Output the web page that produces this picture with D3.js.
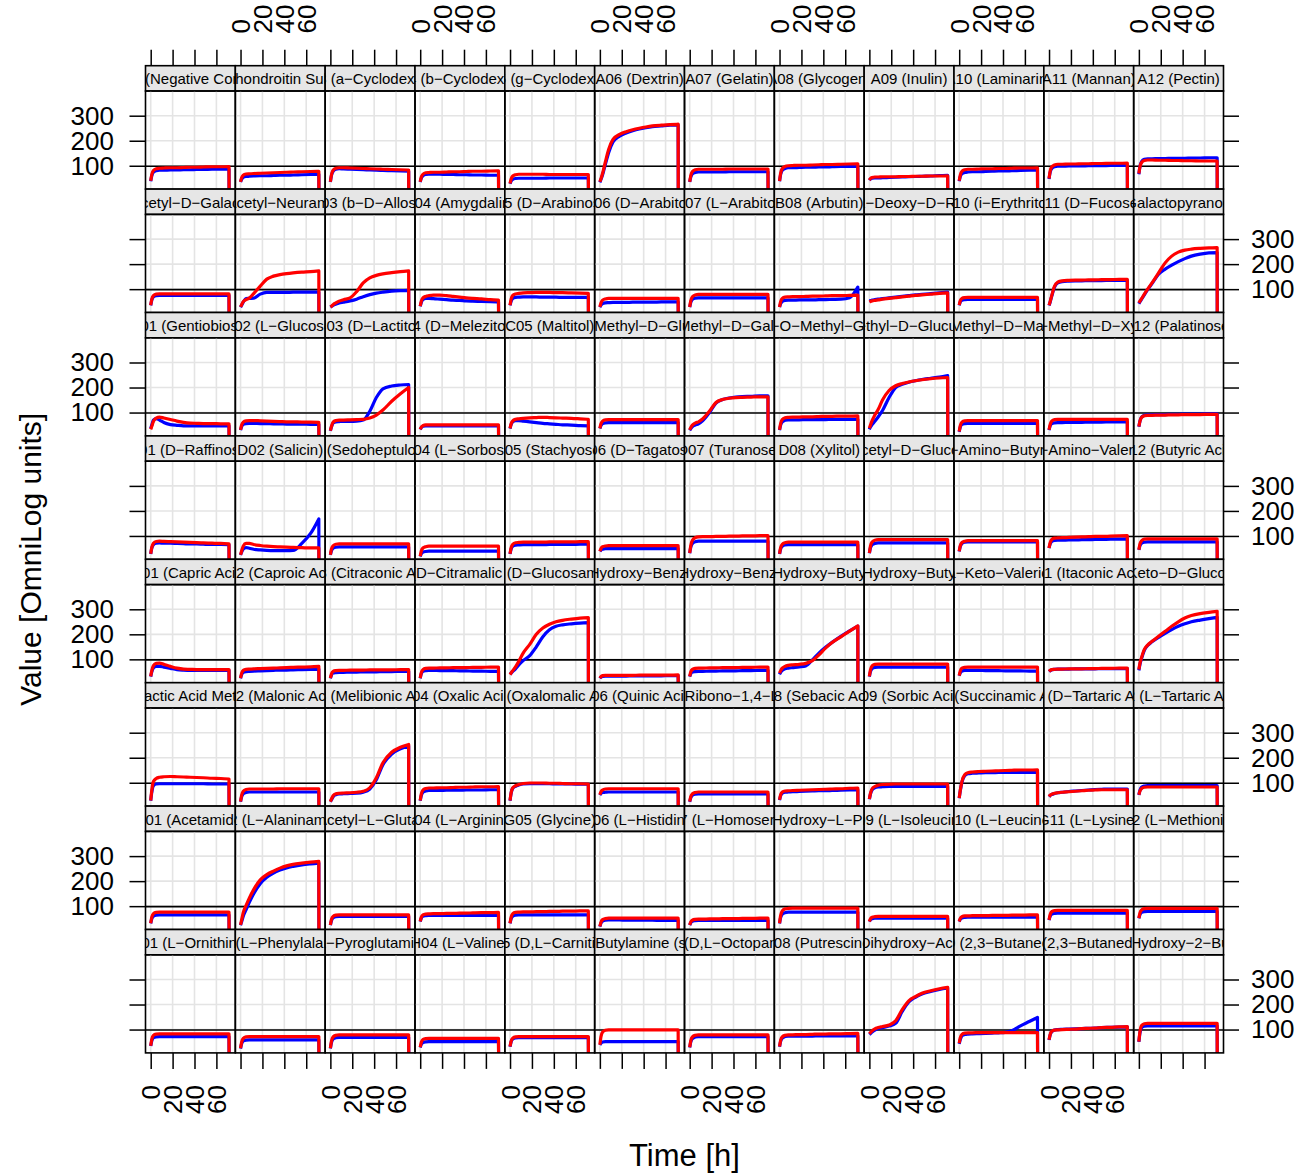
<!DOCTYPE html>
<html>
<head>
<meta charset="utf-8">
<script src="https://cdn.jsdelivr.net/npm/d3@7"></script>
<style>
	body { margin: 0; background: #fff; }
	svg { display: block; }
	text { font-family: "Liberation Sans", Arial, Helvetica, sans-serif; fill: #000; }
</style>
</head>
<body>
<script>
/*--- data: PM02 wells, two curves per well ---*/

var wells = [
	"A01 (Negative Control)", "A02 (Chondroitin Sulfate C)", "A03 (a-Cyclodextrin)", "A04 (b-Cyclodextrin)", "A05 (g-Cyclodextrin)", "A06 (Dextrin)",
	"A07 (Gelatin)", "A08 (Glycogen)", "A09 (Inulin)", "A10 (Laminarin)", "A11 (Mannan)", "A12 (Pectin)",
	"B01 (N-Acetyl-D-Galactosamine)", "B02 (N-Acetyl-Neuraminic Acid)", "B03 (b-D-Allose)", "B04 (Amygdalin)", "B05 (D-Arabinose)", "B06 (D-Arabitol)",
	"B07 (L-Arabitol)", "B08 (Arbutin)", "B09 (2-Deoxy-D-Ribose)", "B10 (i-Erythritol)", "B11 (D-Fucose)", "B12 (3-O-b-D-Galactopyranosyl-D-Arabinose)",
	"C01 (Gentiobiose)", "C02 (L-Glucose)", "C03 (D-Lactitol)", "C04 (D-Melezitose)", "C05 (Maltitol)", "C06 (a-Methyl-D-Glucoside)",
	"C07 (b-Methyl-D-Galactoside)", "C08 (3-O-Methyl-Glucose)", "C09 (b-Methyl-D-Glucuronic Acid)", "C10 (a-Methyl-D-Mannoside)", "C11 (b-Methyl-D-Xyloside)", "C12 (Palatinose)",
	"D01 (D-Raffinose)", "D02 (Salicin)", "D03 (Sedoheptulosan)", "D04 (L-Sorbose)", "D05 (Stachyose)", "D06 (D-Tagatose)",
	"D07 (Turanose)", "D08 (Xylitol)", "D09 (N-Acetyl-D-Glucosaminitol)", "D10 (g-Amino-Butyric Acid)", "D11 (d-Amino-Valeric Acid)", "D12 (Butyric Acid)",
	"E01 (Capric Acid)", "E02 (Caproic Acid)", "E03 (Citraconic Acid)", "E04 (D-Citramalic Acid)", "E05 (D-Glucosamine)", "E06 (2-Hydroxy-Benzoic Acid)",
	"E07 (4-Hydroxy-Benzoic Acid)", "E08 (b-Hydroxy-Butyric Acid)", "E09 (g-Hydroxy-Butyric Acid)", "E10 (a-Keto-Valeric Acid)", "E11 (Itaconic Acid)", "E12 (5-Keto-D-Gluconic Acid)",
	"F01 (D-Lactic Acid Methyl Ester)", "F02 (Malonic Acid)", "F03 (Melibionic Acid)", "F04 (Oxalic Acid)", "F05 (Oxalomalic Acid)", "F06 (Quinic Acid)",
	"F07 (D-Ribono-1,4-Lactone)", "F08 (Sebacic Acid)", "F09 (Sorbic Acid)", "F10 (Succinamic Acid)", "F11 (D-Tartaric Acid)", "F12 (L-Tartaric Acid)",
	"G01 (Acetamide)", "G02 (L-Alaninamide)", "G03 (N-Acetyl-L-Glutamic Acid)", "G04 (L-Arginine)", "G05 (Glycine)", "G06 (L-Histidine)",
	"G07 (L-Homoserine)", "G08 (Hydroxy-L-Proline)", "G09 (L-Isoleucine)", "G10 (L-Leucine)", "G11 (L-Lysine)", "G12 (L-Methionine)",
	"H01 (L-Ornithine)", "H02 (L-Phenylalanine)", "H03 (L-Pyroglutamic Acid)", "H04 (L-Valine)", "H05 (D,L-Carnitine)", "H06 (Butylamine (sec-))",
	"H07 (D,L-Octopamine)", "H08 (Putrescine)", "H09 (Dihydroxy-Acetone)", "H10 (2,3-Butanediol)", "H11 (2,3-Butanedione)", "H12 (3-Hydroxy-2-Butanone)"
];

// reading times [h]
var hours = [0, 1, 2.5, 5, 8, 12, 18, 24, 30, 36, 42, 48, 56, 64, 71.5];
// last reading, where every curve falls off
var dropTime = 71.6, dropValue = 0;

var blue = [
	// row A
	[38, 60, 74, 80, 82, 82, 83, 83, 84, 84, 85, 85, 86, 86, 87],
	[35, 46, 54, 57, 58, 59, 60, 60, 61, 62, 62, 63, 64, 65, 66],
	[35, 61, 78, 86, 88, 87, 86, 85, 84, 83, 82, 81, 80, 79, 78],
	[35, 50, 60, 65, 66, 66, 66, 65, 65, 64, 64, 63, 63, 62, 62],
	[28, 39, 46, 49, 50, 50, 50, 50, 50, 51, 51, 51, 51, 51, 51],
	[34, 45, 64, 105, 152, 195, 218, 231, 240, 247, 252, 256, 259, 262, 263],
	[35, 55, 68, 73, 75, 75, 75, 75, 75, 76, 76, 76, 76, 76, 76],
	[38, 65, 82, 89, 92, 92, 93, 94, 94, 95, 95, 96, 97, 97, 98],
	[42, 47, 50, 51, 51, 52, 53, 54, 55, 56, 57, 58, 59, 61, 62],
	[38, 57, 68, 73, 75, 76, 76, 77, 78, 79, 79, 80, 81, 82, 83],
	[47, 73, 89, 96, 98, 98, 99, 99, 99, 100, 100, 100, 101, 101, 101],
	[66, 97, 117, 126, 128, 128, 129, 129, 130, 130, 130, 131, 131, 132, 132],
	// row B
	[35, 56, 69, 74, 75, 75, 75, 75, 75, 75, 75, 75, 75, 75, 75],
	[28, 36, 48, 62, 63, 64, 80, 87, 87, 87, 87, 88, 88, 88, 88],
	[28, 31, 35, 40, 45, 48, 53, 60, 70, 78, 84, 88, 92, 94, 95],
	[31, 47, 58, 63, 63, 62, 60, 58, 56, 55, 53, 52, 51, 50, 49],
	[35, 52, 63, 67, 68, 69, 69, 69, 68, 68, 68, 67, 67, 67, 67],
	[28, 36, 42, 45, 46, 47, 47, 47, 48, 48, 48, 48, 49, 49, 49],
	[28, 47, 59, 64, 65, 65, 65, 65, 65, 65, 65, 65, 65, 65, 65],
	[28, 42, 51, 55, 56, 56, 57, 57, 57, 58, 58, 59, 60, 66, 108],
	[53, 54, 56, 58, 60, 62, 65, 68, 71, 74, 77, 79, 82, 85, 88],
	[35, 49, 56, 58, 59, 59, 59, 59, 59, 59, 59, 59, 59, 59, 59],
	[35, 48, 72, 108, 125, 130, 132, 133, 133, 134, 134, 134, 135, 135, 135],
	[42, 50, 60, 77, 98, 122, 160, 180, 196, 210, 222, 232, 240, 245, 246],
	// row C
	[36, 50, 70, 76, 70, 60, 52, 49, 47, 47, 47, 47, 47, 47, 47],
	[30, 44, 53, 56, 57, 57, 56, 56, 55, 55, 54, 54, 54, 53, 53],
	[27, 42, 58, 63, 64, 65, 65, 66, 70, 105, 160, 195, 206, 210, 212],
	[32, 40, 45, 47, 47, 47, 47, 47, 47, 47, 47, 47, 47, 47, 47],
	[36, 52, 63, 68, 68, 66, 63, 60, 57, 55, 53, 51, 50, 48, 47],
	[36, 48, 56, 59, 60, 60, 60, 60, 60, 60, 60, 60, 60, 60, 60],
	[29, 36, 44, 50, 55, 68, 100, 138, 152, 158, 162, 164, 165, 167, 167],
	[30, 50, 63, 69, 71, 71, 71, 72, 72, 72, 72, 73, 73, 73, 73],
	[33, 42, 52, 65, 82, 108, 160, 200, 213, 221, 227, 232, 237, 242, 248],
	[23, 42, 53, 56, 57, 57, 57, 57, 57, 57, 57, 57, 57, 57, 57],
	[30, 46, 56, 59, 60, 60, 61, 61, 61, 62, 62, 62, 63, 63, 63],
	[43, 66, 82, 89, 91, 91, 92, 92, 93, 93, 94, 94, 94, 95, 95],
	// row D
	[28, 51, 65, 71, 72, 71, 71, 70, 69, 68, 68, 67, 66, 66, 65],
	[24, 35, 48, 53, 51, 47, 44, 42, 41, 41, 41, 42, 70, 110, 168],
	[24, 41, 51, 55, 56, 56, 56, 56, 56, 56, 56, 56, 56, 56, 56],
	[18, 29, 35, 38, 39, 39, 39, 39, 39, 39, 39, 39, 39, 39, 39],
	[28, 48, 59, 63, 64, 65, 65, 65, 65, 66, 66, 66, 66, 67, 67],
	[38, 44, 47, 49, 49, 49, 49, 49, 49, 49, 49, 49, 49, 49, 49],
	[31, 55, 70, 77, 79, 79, 79, 79, 79, 79, 79, 79, 79, 79, 79],
	[28, 48, 59, 64, 65, 65, 65, 65, 65, 65, 65, 65, 65, 65, 65],
	[31, 53, 65, 70, 72, 72, 72, 72, 72, 72, 72, 72, 72, 72, 72],
	[38, 58, 70, 75, 76, 76, 76, 76, 76, 76, 76, 76, 76, 76, 76],
	[51, 68, 78, 82, 83, 83, 84, 84, 85, 85, 86, 86, 87, 87, 88],
	[44, 61, 71, 75, 76, 76, 76, 76, 76, 76, 76, 76, 76, 76, 76],
	// row E
	[31, 50, 66, 72, 72, 69, 64, 59, 57, 56, 56, 56, 56, 56, 56],
	[24, 39, 48, 51, 52, 53, 54, 55, 56, 57, 57, 58, 59, 60, 61],
	[24, 37, 45, 47, 48, 48, 49, 49, 50, 50, 50, 51, 51, 52, 52],
	[24, 42, 52, 55, 56, 56, 55, 55, 55, 54, 54, 53, 53, 52, 52],
	[40, 45, 52, 62, 78, 95, 115, 150, 190, 218, 232, 238, 242, 245, 247],
	[24, 29, 32, 33, 33, 33, 33, 33, 34, 34, 34, 34, 34, 35, 35],
	[31, 43, 49, 51, 52, 52, 53, 53, 54, 54, 54, 55, 55, 56, 56],
	[40, 48, 56, 62, 65, 67, 70, 74, 98, 125, 148, 168, 192, 214, 233],
	[31, 51, 63, 68, 69, 69, 69, 69, 69, 69, 69, 69, 69, 69, 69],
	[34, 46, 53, 56, 56, 56, 56, 55, 55, 55, 54, 54, 54, 53, 53],
	[51, 55, 58, 60, 61, 61, 61, 62, 62, 62, 62, 63, 63, 63, 63],
	[56, 80, 104, 136, 155, 170, 188, 204, 219, 232, 242, 250, 257, 263, 268],
	// row F
	[28, 62, 88, 95, 96, 96, 96, 96, 96, 96, 96, 96, 95, 95, 95],
	[24, 44, 56, 61, 63, 63, 63, 63, 63, 63, 63, 63, 63, 63, 63],
	[24, 32, 44, 52, 55, 56, 57, 58, 62, 75, 112, 172, 215, 236, 247],
	[28, 49, 62, 67, 69, 69, 69, 70, 70, 70, 71, 71, 71, 72, 72],
	[28, 58, 78, 86, 91, 95, 96, 96, 96, 96, 95, 95, 95, 94, 94],
	[51, 57, 61, 62, 63, 63, 63, 63, 63, 63, 63, 63, 63, 63, 63],
	[24, 40, 50, 54, 55, 55, 55, 55, 55, 55, 55, 55, 55, 55, 55],
	[31, 48, 58, 62, 63, 64, 65, 66, 67, 68, 68, 69, 70, 71, 72],
	[34, 55, 71, 80, 83, 84, 85, 85, 85, 85, 85, 85, 85, 85, 85],
	[38, 68, 102, 128, 136, 138, 139, 140, 140, 141, 141, 141, 141, 141, 141],
	[44, 49, 53, 57, 60, 62, 65, 67, 69, 71, 73, 74, 75, 75, 75],
	[51, 70, 82, 87, 89, 89, 89, 89, 89, 89, 89, 89, 89, 89, 89],
	// row G
	[31, 50, 60, 64, 65, 65, 65, 65, 65, 65, 65, 65, 65, 65, 65],
	[24, 38, 60, 85, 115, 150, 190, 215, 232, 244, 253, 259, 265, 269, 272],
	[24, 42, 53, 58, 59, 59, 59, 59, 59, 59, 59, 59, 59, 59, 59],
	[38, 52, 60, 62, 63, 63, 63, 63, 63, 63, 63, 63, 63, 63, 63],
	[31, 50, 60, 64, 65, 65, 65, 65, 65, 65, 65, 65, 65, 65, 65],
	[18, 32, 40, 44, 45, 45, 45, 44, 44, 44, 44, 44, 43, 43, 43],
	[24, 34, 40, 42, 43, 43, 43, 43, 43, 43, 43, 43, 43, 43, 43],
	[31, 54, 68, 74, 76, 76, 76, 76, 76, 76, 76, 76, 76, 76, 76],
	[38, 46, 50, 52, 52, 52, 52, 52, 52, 52, 52, 52, 52, 52, 52],
	[38, 48, 53, 55, 56, 56, 56, 56, 56, 56, 56, 56, 56, 56, 56],
	[44, 59, 68, 71, 72, 72, 72, 72, 72, 72, 72, 72, 72, 72, 72],
	[51, 66, 75, 78, 79, 79, 79, 79, 79, 79, 79, 79, 79, 79, 79],
	// row H
	[34, 55, 67, 71, 72, 72, 72, 72, 72, 72, 72, 72, 72, 72, 72],
	[24, 43, 54, 58, 59, 59, 59, 59, 59, 59, 59, 59, 59, 59, 59],
	[24, 48, 62, 67, 69, 69, 69, 69, 69, 69, 69, 69, 69, 69, 69],
	[28, 41, 48, 51, 52, 52, 52, 52, 52, 52, 52, 52, 52, 52, 52],
	[31, 51, 62, 67, 68, 68, 68, 68, 68, 68, 68, 68, 68, 68, 68],
	[38, 45, 50, 52, 52, 52, 52, 52, 52, 52, 52, 52, 52, 52, 52],
	[28, 51, 64, 70, 72, 72, 72, 72, 72, 72, 72, 72, 72, 72, 72],
	[31, 53, 66, 72, 74, 74, 74, 74, 74, 75, 75, 75, 75, 75, 75],
	[80, 84, 90, 98, 104, 108, 114, 125, 172, 210, 229, 242, 252, 260, 266],
	[43, 60, 75, 80, 82, 83, 84, 85, 86, 87, 89, 95, 115, 132, 148],
	[58, 78, 92, 98, 100, 101, 102, 103, 104, 105, 106, 108, 109, 110, 111],
	[51, 86, 108, 114, 115, 115, 115, 115, 115, 115, 115, 115, 115, 115, 115]
];

var red = [
	// row A
	[40, 65, 81, 88, 90, 91, 92, 92, 93, 94, 94, 95, 96, 96, 97],
	[36, 52, 62, 67, 68, 69, 70, 71, 72, 73, 74, 75, 76, 77, 78],
	[36, 64, 82, 90, 92, 92, 91, 90, 89, 88, 87, 86, 85, 84, 83],
	[36, 55, 66, 72, 73, 74, 74, 75, 76, 76, 77, 78, 78, 79, 80],
	[29, 47, 59, 64, 66, 66, 66, 66, 66, 65, 65, 65, 65, 65, 65],
	[36, 48, 70, 115, 165, 205, 225, 236, 244, 250, 255, 259, 262, 264, 266],
	[36, 61, 77, 84, 86, 86, 86, 86, 86, 87, 87, 87, 87, 87, 87],
	[39, 70, 89, 97, 100, 101, 102, 102, 103, 104, 105, 105, 106, 107, 108],
	[43, 49, 53, 55, 55, 56, 56, 56, 57, 57, 58, 58, 59, 59, 60],
	[40, 63, 78, 84, 86, 86, 87, 88, 88, 89, 89, 90, 91, 91, 92],
	[49, 78, 96, 103, 106, 106, 107, 107, 108, 108, 109, 109, 110, 110, 111],
	[69, 96, 113, 121, 123, 123, 122, 122, 121, 121, 120, 120, 119, 119, 119],
	// row B
	[36, 60, 74, 80, 81, 81, 81, 81, 81, 81, 81, 81, 81, 81, 81],
	[29, 38, 50, 58, 64, 82, 112, 140, 152, 158, 162, 165, 168, 170, 173],
	[29, 32, 38, 45, 52, 58, 65, 90, 125, 145, 155, 161, 166, 170, 173],
	[32, 52, 65, 71, 74, 76, 76, 74, 71, 68, 65, 63, 61, 58, 56],
	[36, 60, 75, 81, 83, 85, 86, 87, 87, 87, 86, 86, 85, 84, 83],
	[29, 45, 56, 61, 63, 63, 63, 63, 63, 63, 63, 63, 63, 63, 63],
	[29, 54, 70, 77, 79, 79, 79, 79, 79, 79, 79, 79, 79, 79, 79],
	[29, 50, 63, 68, 69, 70, 70, 71, 72, 72, 73, 74, 74, 75, 76],
	[49, 51, 53, 55, 57, 60, 63, 66, 69, 72, 75, 77, 80, 83, 85],
	[36, 54, 63, 66, 67, 67, 67, 67, 67, 67, 67, 67, 67, 67, 67],
	[36, 50, 75, 112, 128, 133, 135, 136, 136, 137, 137, 138, 138, 139, 139],
	[45, 52, 62, 80, 100, 125, 165, 205, 232, 248, 256, 260, 263, 265, 266],
	// row C
	[33, 45, 65, 78, 82, 78, 72, 66, 61, 58, 57, 56, 56, 55, 55],
	[31, 50, 62, 67, 68, 68, 67, 66, 65, 64, 63, 63, 62, 62, 61],
	[28, 45, 62, 68, 70, 70, 71, 72, 73, 78, 90, 110, 145, 175, 200],
	[33, 42, 48, 51, 51, 51, 51, 51, 51, 51, 51, 51, 51, 51, 51],
	[37, 55, 67, 73, 75, 77, 79, 80, 81, 80, 79, 78, 77, 75, 73],
	[37, 55, 66, 71, 72, 72, 72, 72, 72, 72, 72, 72, 72, 72, 72],
	[31, 40, 50, 58, 63, 75, 105, 140, 152, 157, 160, 161, 162, 163, 163],
	[31, 56, 72, 79, 81, 82, 82, 83, 83, 84, 85, 85, 86, 86, 87],
	[37, 50, 68, 90, 112, 150, 188, 207, 216, 222, 227, 231, 235, 238, 240],
	[24, 48, 62, 67, 68, 68, 68, 68, 68, 68, 68, 68, 68, 68, 68],
	[31, 52, 66, 72, 73, 73, 73, 73, 73, 73, 73, 73, 73, 73, 73],
	[44, 66, 81, 87, 89, 89, 90, 90, 91, 91, 92, 92, 92, 93, 93],
	// row D
	[29, 54, 71, 78, 79, 78, 77, 76, 75, 74, 73, 72, 71, 70, 68],
	[25, 40, 60, 70, 70, 66, 62, 59, 57, 56, 55, 54, 53, 52, 52],
	[25, 48, 61, 67, 68, 68, 68, 68, 68, 68, 68, 68, 68, 68, 68],
	[19, 40, 52, 57, 59, 59, 59, 59, 59, 59, 59, 59, 59, 59, 59],
	[29, 53, 67, 73, 74, 75, 75, 75, 75, 76, 76, 76, 76, 77, 77],
	[39, 50, 57, 60, 61, 61, 61, 61, 61, 61, 61, 61, 61, 61, 61],
	[32, 62, 83, 93, 96, 97, 97, 98, 98, 99, 99, 100, 100, 101, 101],
	[29, 53, 67, 73, 75, 75, 75, 75, 75, 75, 75, 75, 75, 75, 75],
	[32, 60, 76, 83, 85, 85, 85, 85, 85, 85, 85, 85, 85, 85, 85],
	[39, 61, 74, 79, 81, 81, 81, 81, 81, 81, 81, 81, 81, 81, 81],
	[52, 73, 86, 91, 92, 93, 94, 95, 96, 97, 98, 98, 99, 100, 101],
	[45, 68, 81, 87, 88, 88, 88, 88, 88, 88, 88, 88, 88, 88, 88],
	// row E
	[32, 55, 75, 84, 85, 80, 72, 65, 61, 60, 59, 59, 59, 59, 59],
	[25, 45, 56, 60, 61, 62, 63, 64, 65, 66, 67, 68, 69, 70, 72],
	[25, 42, 52, 55, 56, 56, 57, 57, 57, 58, 58, 58, 58, 59, 59],
	[25, 47, 59, 64, 65, 65, 66, 66, 67, 67, 67, 68, 68, 69, 69],
	[39, 46, 55, 70, 92, 125, 160, 200, 225, 240, 250, 256, 261, 265, 267],
	[25, 31, 35, 36, 36, 36, 36, 36, 36, 37, 37, 37, 37, 37, 38],
	[32, 50, 60, 64, 65, 65, 66, 66, 67, 67, 67, 68, 68, 69, 69],
	[45, 55, 65, 72, 76, 78, 80, 84, 95, 118, 145, 167, 190, 213, 234],
	[32, 58, 74, 80, 81, 81, 81, 81, 81, 81, 81, 81, 81, 81, 81],
	[35, 54, 65, 68, 69, 69, 69, 69, 69, 69, 69, 69, 69, 69, 69],
	[52, 56, 59, 60, 61, 61, 62, 62, 62, 63, 63, 64, 64, 65, 65],
	[59, 85, 108, 140, 157, 172, 192, 212, 232, 250, 265, 275, 283, 288, 292],
	// row F
	[29, 70, 105, 117, 122, 124, 125, 124, 123, 122, 121, 120, 118, 117, 115],
	[25, 50, 66, 73, 75, 75, 75, 75, 75, 76, 76, 76, 76, 76, 76],
	[25, 35, 48, 56, 58, 59, 60, 62, 66, 80, 120, 180, 222, 242, 253],
	[29, 55, 71, 77, 79, 79, 80, 80, 81, 82, 82, 83, 84, 84, 85],
	[29, 60, 80, 88, 93, 97, 99, 99, 99, 98, 98, 97, 96, 96, 95],
	[52, 64, 71, 75, 76, 76, 76, 76, 76, 76, 76, 76, 76, 76, 76],
	[25, 45, 56, 61, 63, 63, 63, 63, 63, 63, 63, 63, 63, 63, 63],
	[32, 52, 63, 67, 68, 69, 70, 71, 72, 73, 74, 75, 76, 78, 79],
	[35, 58, 76, 85, 90, 93, 94, 95, 95, 95, 95, 95, 95, 95, 95],
	[39, 70, 105, 132, 140, 143, 145, 146, 147, 148, 149, 150, 151, 151, 152],
	[45, 50, 54, 58, 60, 62, 64, 66, 68, 70, 71, 72, 72, 72, 72],
	[52, 67, 77, 82, 83, 83, 83, 83, 83, 83, 83, 83, 83, 83, 83],
	// row G
	[32, 56, 70, 75, 76, 76, 76, 76, 76, 76, 76, 76, 76, 76, 76],
	[25, 45, 75, 102, 132, 166, 205, 226, 240, 252, 261, 267, 272, 276, 279],
	[25, 47, 59, 64, 65, 65, 65, 65, 65, 65, 65, 65, 65, 65, 65],
	[39, 56, 65, 68, 69, 70, 70, 71, 71, 72, 72, 73, 74, 74, 75],
	[32, 56, 70, 75, 76, 77, 77, 78, 78, 79, 79, 80, 80, 81, 81],
	[19, 36, 46, 50, 52, 52, 52, 52, 52, 52, 52, 52, 52, 52, 52],
	[25, 37, 44, 47, 48, 48, 49, 49, 50, 50, 50, 51, 51, 52, 52],
	[32, 62, 81, 89, 91, 92, 92, 92, 92, 92, 92, 92, 92, 92, 92],
	[39, 50, 56, 58, 59, 59, 59, 59, 59, 59, 59, 59, 59, 59, 59],
	[39, 51, 58, 61, 61, 62, 62, 62, 63, 63, 63, 64, 64, 65, 65],
	[45, 66, 78, 82, 83, 83, 83, 83, 83, 83, 83, 83, 83, 83, 83],
	[52, 73, 85, 90, 91, 91, 91, 91, 91, 91, 91, 91, 91, 91, 91],
	// row H
	[35, 62, 77, 82, 83, 83, 83, 83, 83, 83, 83, 83, 83, 83, 83],
	[25, 50, 65, 71, 72, 72, 72, 72, 72, 72, 72, 72, 72, 72, 72],
	[25, 54, 71, 77, 79, 79, 79, 79, 79, 79, 79, 79, 79, 79, 79],
	[29, 49, 60, 64, 65, 65, 65, 65, 65, 65, 65, 65, 65, 65, 65],
	[32, 54, 66, 71, 72, 72, 72, 72, 72, 72, 72, 72, 72, 72, 72],
	[39, 71, 90, 97, 99, 99, 99, 99, 99, 99, 99, 99, 99, 99, 99],
	[29, 56, 71, 77, 79, 79, 79, 79, 79, 79, 79, 79, 79, 79, 79],
	[32, 57, 71, 77, 79, 79, 80, 80, 81, 82, 82, 83, 83, 84, 85],
	[83, 88, 95, 103, 108, 112, 118, 135, 180, 215, 232, 245, 255, 263, 269],
	[45, 68, 81, 86, 87, 87, 88, 88, 88, 88, 88, 88, 88, 88, 88],
	[59, 80, 93, 98, 99, 100, 101, 102, 104, 105, 106, 108, 109, 111, 112],
	[52, 92, 116, 123, 125, 125, 125, 125, 125, 125, 125, 125, 125, 125, 125]
];

var xTicks = [0, 20, 40, 60];
var yTicks = [100, 200, 300];
var xRange = [-4.75, 77.3];
var yRange = [6.7, 398.7];
// horizontal baseline from the negative control well
var negCtrl = 98;

/*--- layout ---*/
var W = 1302, H = 1175;
var nCol = 12, nRow = 8;
var gridLeft = 145.5, gridRight = 1223.5, gridTop = 65.7;
var pw = (gridRight - gridLeft) / nCol;
var stripH = 25.3, ph = 98.1;
var rowH = stripH + ph;
var gridBottom = gridTop + nRow * rowH;

var svg = d3.select("body").append("svg")
	.attr("width", W)
	.attr("height", H);

svg.append("rect")
	.attr("width", W)
	.attr("height", H)
	.attr("fill", "#fff");

var defs = svg.append("defs");
defs.append("clipPath").attr("id", "panel_clip")
	.append("rect").attr("width", pw).attr("height", ph);
defs.append("clipPath").attr("id", "strip_clip")
	.append("rect").attr("width", pw).attr("height", stripH);

var x = d3.scaleLinear().domain(xRange).range([0, pw]);
var y = d3.scaleLinear().domain(yRange).range([ph, 0]);

var line = d3.line()
	.x(function (d) { return x(d.t); })
	.y(function (d) { return y(d.v); })
	.curve(d3.curveMonotoneX);

function curvePath(vals) {
	var pts = hours.map(function (h, k) { return { t: h, v: vals[k] }; });
	// smooth growth curve, then straight fall at the last reading
	return line(pts) + "L" + x(dropTime) + "," + y(dropValue);
}

wells.forEach(function (name, i) {
	var col = i % nCol, row = Math.floor(i / nCol);
	var g = svg.append("g")
		.attr("transform", "translate(" + (gridLeft + col * pw) + "," + (gridTop + row * rowH) + ")");

	//strip
	g.append("rect")
		.attr("width", pw).attr("height", stripH)
		.attr("fill", "#e6e6e6")
		.attr("stroke", "#000").attr("stroke-width", 1.6);
	g.append("g").attr("clip-path", "url(#strip_clip)")
		.append("text")
		.attr("x", pw / 2).attr("y", stripH / 2 + 0.5)
		.attr("text-anchor", "middle")
		.attr("dominant-baseline", "central")
		.style("font-size", "15px")
		.text(name.replace(/-/g, "\u2212"));

	//panel
	var p = g.append("g").attr("transform", "translate(0," + stripH + ")");
	var inner = p.append("g").attr("clip-path", "url(#panel_clip)");

	inner.selectAll("line.vg").data(xTicks).enter().append("line")
		.attr("x1", function (d) { return x(d); }).attr("x2", function (d) { return x(d); })
		.attr("y1", 0).attr("y2", ph)
		.attr("stroke", "#e4e4e4").attr("stroke-width", 1.6);
	inner.selectAll("line.hg").data(yTicks).enter().append("line")
		.attr("x1", 0).attr("x2", pw)
		.attr("y1", function (d) { return y(d); }).attr("y2", function (d) { return y(d); })
		.attr("stroke", "#e4e4e4").attr("stroke-width", 1.6);

	inner.append("line")
		.attr("x1", 0).attr("x2", pw)
		.attr("y1", y(negCtrl)).attr("y2", y(negCtrl))
		.attr("stroke", "#000").attr("stroke-width", 1.6);

	inner.append("path")
		.attr("d", curvePath(blue[i]))
		.attr("fill", "none").attr("stroke", "#0000ff")
		.attr("stroke-width", 3.2).attr("stroke-linejoin", "round");
	inner.append("path")
		.attr("d", curvePath(red[i]))
		.attr("fill", "none").attr("stroke", "#ff0000")
		.attr("stroke-width", 3.2).attr("stroke-linejoin", "round");

	p.append("rect")
		.attr("width", pw).attr("height", ph)
		.attr("fill", "none")
		.attr("stroke", "#000").attr("stroke-width", 1.6);
});

/*--- axes ---*/
function styleAxis(a) {
	a.select(".domain").remove();
	a.attr("font-family", null).attr("font-size", null);
	a.selectAll(".tick line").attr("stroke", "#000").attr("stroke-width", 1.5);
	a.selectAll(".tick text").style("font-size", "26px").attr("fill", "#000");
}

for (var r = 0; r < nRow; r++) {
	var py = gridTop + r * rowH + stripH;
	var showLeft = (r % 2 === 0);

	var la = svg.append("g")
		.attr("transform", "translate(" + gridLeft + "," + py + ")")
		.call(d3.axisLeft(y).tickValues(yTicks).tickSize(16).tickPadding(15.5)
			.tickFormat(showLeft ? d3.format("d") : function () { return ""; }));
	styleAxis(la);

	var ra = svg.append("g")
		.attr("transform", "translate(" + gridRight + "," + py + ")")
		.call(d3.axisRight(y).tickValues(yTicks).tickSize(15.5).tickPadding(12)
			.tickFormat(showLeft ? function () { return ""; } : d3.format("d")));
	styleAxis(ra);
}

for (var c = 0; c < nCol; c++) {
	var px = gridLeft + c * pw;
	var showTop = (c % 2 === 1);

	var ta = svg.append("g")
		.attr("transform", "translate(" + px + "," + gridTop + ")")
		.call(d3.axisTop(x).tickValues(xTicks).tickSize(16)
			.tickFormat(showTop ? d3.format("d") : function () { return ""; }));
	styleAxis(ta);
	ta.selectAll(".tick text")
		.attr("x", 0).attr("y", 0).attr("dy", null)
		.attr("text-anchor", "start")
		.attr("dominant-baseline", "central")
		.attr("transform", "translate(0,-32.2) rotate(-90)");

	var ba = svg.append("g")
		.attr("transform", "translate(" + px + "," + gridBottom + ")")
		.call(d3.axisBottom(x).tickValues(xTicks).tickSize(16)
			.tickFormat(showTop ? function () { return ""; } : d3.format("d")));
	styleAxis(ba);
	ba.selectAll(".tick text")
		.attr("x", 0).attr("y", 0).attr("dy", null)
		.attr("text-anchor", "end")
		.attr("dominant-baseline", "central")
		.attr("transform", "translate(0,32.2) rotate(-90)");
}

//axis titles
svg.append("text")
	.attr("x", (gridLeft + gridRight) / 2).attr("y", 1166)
	.attr("text-anchor", "middle")
	.style("font-size", "31px")
	.text("Time [h]");

svg.append("text")
	.attr("transform", "translate(30," + ((gridTop + gridBottom) / 2) + ") rotate(-90)")
	.attr("text-anchor", "middle")
	.attr("dominant-baseline", "central")
	.style("font-size", "30px")
	.text("Value [OmniLog units]");
</script>
</body>
</html>
